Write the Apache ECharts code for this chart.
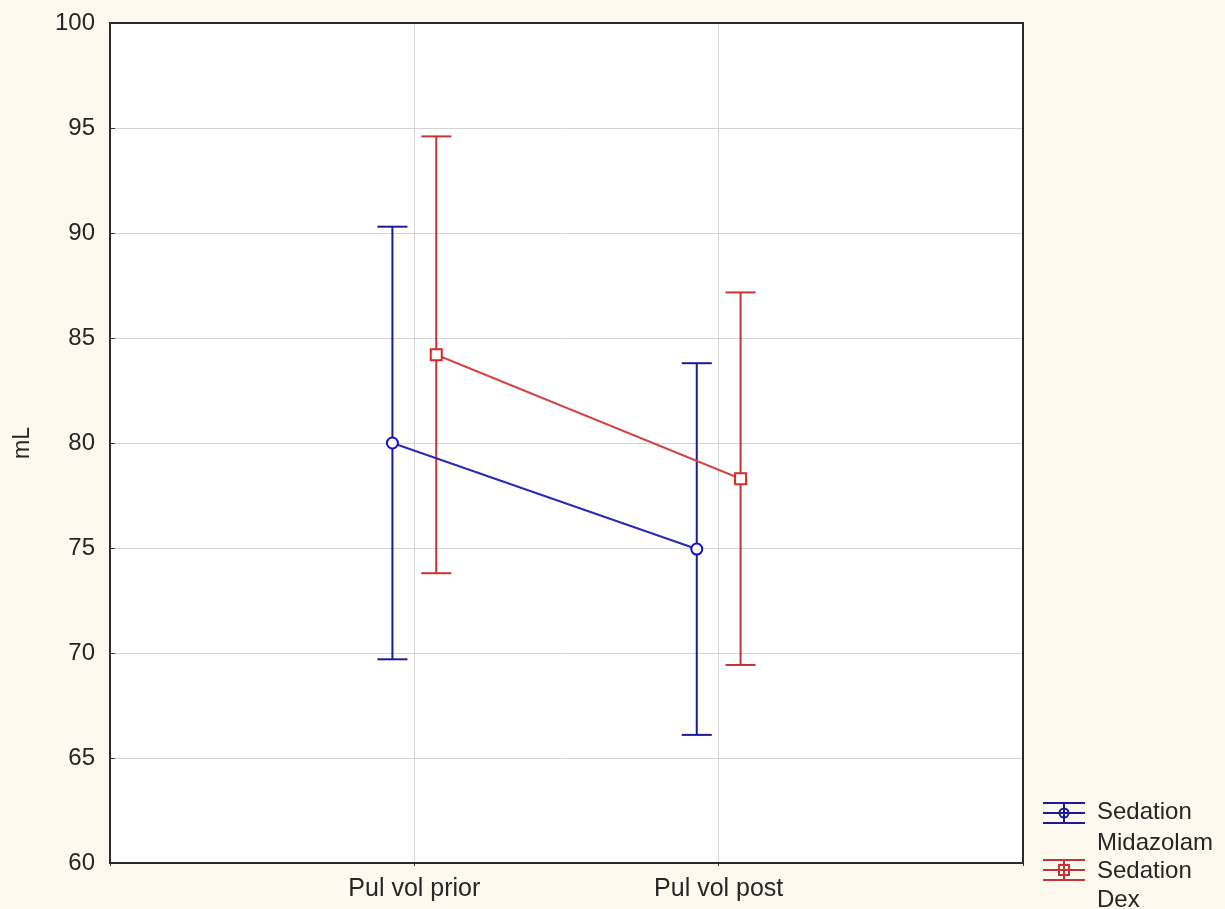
<!DOCTYPE html>
<html>
<head>
<meta charset="utf-8">
<script src="https://cdn.jsdelivr.net/npm/echarts@6/dist/echarts.min.js"></script>
<style>
  html, body { margin: 0; padding: 0; background: #fdf9ee; }
  #chart { width: 1225px; height: 909px; }
</style>
</head>
<body>
<div id="chart"></div>
<script>
var categories = ['Pul vol prior', 'Pul vol post']
var mida_mean = [80.0, 74.95]
var mida_err = [10.3, 8.85]
var dex_mean = [84.2, 78.3]
var dex_err = [10.4, 8.87]
var y_ticks = [60, 65, 70, 75, 80, 85, 90, 95, 100]

var blue = '#1c1c96'
var blue_line = '#2b2bb0'
var red = '#c43434'
var red_line = '#d24848'
var shift = 0.072

function points(means, dx) {
    var out = []
    for (var i = 0; i < means.length; i++) {
        out.push([i + 1 + dx, means[i]])
    }
    return out
}

function bars(means, errs, dx) {
    var out = []
    for (var i = 0; i < means.length; i++) {
        out.push([i + 1 + dx, means[i] - errs[i], means[i] + errs[i]])
    }
    return out
}

function errorBar(color) {
    return function (params, api) {
        var x = api.value(0)
        var lo = api.coord([x, api.value(1)])
        var hi = api.coord([x, api.value(2)])
        var w = 15
        var style = { stroke: color, lineWidth: 2, fill: null }
        return {
            type: 'group',
            children: [
                { type: 'line', shape: { x1: hi[0], y1: hi[1], x2: lo[0], y2: lo[1] }, style: style },
                { type: 'line', shape: { x1: hi[0] - w, y1: hi[1], x2: hi[0] + w, y2: hi[1] }, style: style },
                { type: 'line', shape: { x1: lo[0] - w, y1: lo[1], x2: lo[0] + w, y2: lo[1] }, style: style }
            ]
        }
    }
}

function legendIcon(y, color, isCircle) {
    var cx = 1064
    var st = { stroke: color, lineWidth: 2, fill: null }
    var kids = [
        { type: 'line', shape: { x1: cx - 21, y1: y - 10, x2: cx + 21, y2: y - 10 }, style: st },
        { type: 'line', shape: { x1: cx - 21, y1: y, x2: cx + 21, y2: y }, style: st },
        { type: 'line', shape: { x1: cx - 21, y1: y + 10, x2: cx + 21, y2: y + 10 }, style: st },
        { type: 'line', shape: { x1: cx, y1: y - 10, x2: cx, y2: y + 10 }, style: st }
    ]
    if (isCircle) {
        kids.push({ type: 'circle', shape: { cx: cx, cy: y, r: 4.5 }, style: st })
    } else {
        kids.push({ type: 'rect', shape: { x: cx - 5, y: y - 5, width: 10, height: 10 }, style: st })
    }
    return { type: 'group', children: kids }
}

var font = 'Arial, "Liberation Sans", sans-serif'

var option = {
    backgroundColor: '#fdf9ee',
    animation: false,
    grid: {
        left: 110, right: 202, top: 23, bottom: 46,
        show: true, backgroundColor: '#ffffff',
        borderColor: '#2a2a2a', borderWidth: 0
    },
    xAxis: {
        type: 'value',
        min: 0, max: 3, interval: 1,
        axisLine: { show: false },
        axisTick: { show: true, inside: false, length: 3, lineStyle: { color: '#333' } },
        splitLine: { show: true, lineStyle: { color: '#d4d4d4', width: 1 } },
        axisLabel: {
            fontFamily: font, fontSize: 25, color: '#262626', margin: 14,
            formatter: function (v) {
                var k = Math.round(v)
                return (k >= 1 && k <= categories.length) ? categories[k - 1] : ''
            }
        }
    },
    yAxis: {
        type: 'value',
        min: y_ticks[0], max: y_ticks[y_ticks.length - 1], interval: 5,
        name: 'mL',
        nameLocation: 'middle',
        nameRotate: 90,
        nameGap: 76,
        nameTextStyle: { fontFamily: font, fontSize: 23, color: '#262626' },
        axisLine: { show: false },
        axisTick: { show: true, inside: true, length: 5, lineStyle: { color: '#333' } },
        splitLine: { show: true, lineStyle: { color: '#d4d4d4', width: 1 } },
        axisLabel: { fontFamily: font, fontSize: 24, color: '#262626', margin: 15 }
    },
    graphic: [
        {
            type: 'rect', z: 100,
            shape: { x: 110, y: 23, width: 913, height: 840 },
            style: { fill: null, stroke: '#2a2a2a', lineWidth: 2 }
        },
        legendIcon(813, blue, true),
        legendIcon(870, red, false),
        { type: 'text', left: 1097, top: 797, style: { text: 'Sedation\nMidazolam', font: '24px ' + font, fill: '#262626', lineHeight: 31 } },
        { type: 'text', left: 1097, top: 857, style: { text: 'Sedation\nDex', font: '24px ' + font, fill: '#262626', lineHeight: 29 } }
    ],
    series: [
        {
            name: 'Sedation Midazolam bars',
            type: 'custom',
            renderItem: errorBar(blue),
            data: bars(mida_mean, mida_err, -shift),
            z: 3
        },
        {
            name: 'Sedation Dex bars',
            type: 'custom',
            renderItem: errorBar(red),
            data: bars(dex_mean, dex_err, shift),
            z: 3
        },
        {
            name: 'Sedation Midazolam',
            type: 'line',
            data: points(mida_mean, -shift),
            symbol: 'circle',
            symbolSize: 11,
            lineStyle: { color: blue_line, width: 2 },
            itemStyle: { color: '#ffffff', borderColor: '#1010c8', borderWidth: 2 },
            z: 4
        },
        {
            name: 'Sedation Dex',
            type: 'line',
            data: points(dex_mean, shift),
            symbol: 'rect',
            symbolSize: 11,
            lineStyle: { color: red_line, width: 2 },
            itemStyle: { color: '#ffffff', borderColor: '#d82828', borderWidth: 2 },
            z: 4
        }
    ]
}

var myChart = echarts.init(document.getElementById('chart'))
myChart.setOption(option)
</script>
</body>
</html>
